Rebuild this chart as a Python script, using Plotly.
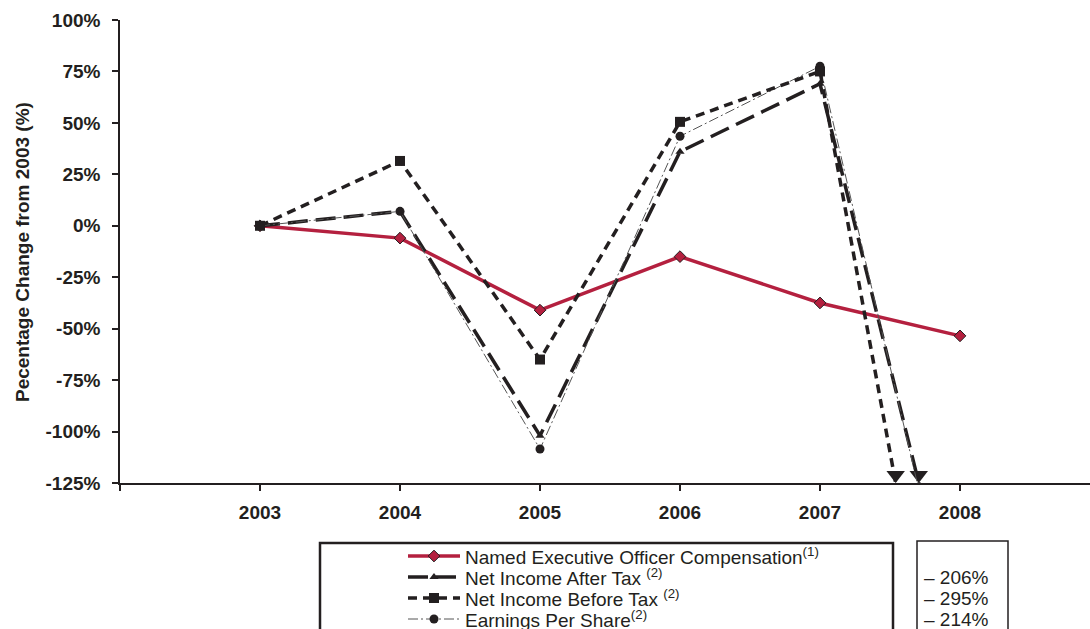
import plotly.graph_objects as go

# ---- data -------------------------------------------------------------
years = [2003, 2004, 2005, 2006, 2007, 2008]
neo_comp = [0, -6, -41, -15, -37.5, -53.5]
ni_after_tax = [0, 7, -102, 36, 69, -206]
ni_before_tax = [0, 31.5, -65, 50.5, 75, -295]
eps = [0, 7, -108.5, 43.5, 77.5, -214]

y_ticks = [100, 75, 50, 25, 0, -25, -50, -75, -100, -125]
x_ticks = [2002, 2003, 2004, 2005, 2006, 2007, 2008]
x_tick_text = ["", "2003", "2004", "2005", "2006", "2007", "2008"]
y_min, y_max = -125, 100

legend_labels = [
    "Named Executive Officer Compensation<sup>(1)</sup>",
    "Net Income After Tax <sup>(2)</sup>",
    "Net Income Before Tax <sup>(2)</sup>",
    "Earnings Per Share<sup>(2)</sup>",
]

# ---- styling ----------------------------------------------------------
W, H = 1090, 629
INK = "#231F20"
RED = "#B4203F"
FONT = "Liberation Sans, Arial, sans-serif"

plot_left, plot_top, plot_bottom = 120, 20, 483
px_per_year = 140
px_per_pct = (plot_bottom - plot_top) / (y_max - y_min)

styles = [
    dict(line=dict(color=RED, width=3.5),
         marker=dict(symbol="diamond", size=9, color=RED, line=dict(color=INK, width=1))),
    dict(line=dict(color=INK, width=3.5, dash="20px,8px"),
         marker=dict(symbol="triangle-up", size=8, color=INK, line=dict(width=0))),
    dict(line=dict(color=INK, width=3.5, dash="9px,6px"),
         marker=dict(symbol="square", size=10, color=INK, line=dict(width=0))),
    dict(line=dict(color="#555555", width=1, dash="10px,3px,2px,3px"),
         marker=dict(symbol="circle", size=9, color=INK, line=dict(width=0))),
]
series = [neo_comp, ni_after_tax, ni_before_tax, eps]
draw_order = [0, 1, 3, 2]
arrow_series = [1, 2]
ARROW_SIZE = 16  # triangle-down marker; its tip sits size/2 px below centre

fig = go.Figure()

for i in draw_order:
    fig.add_trace(go.Scatter(
        x=years, y=series[i], mode="lines+markers",
        line=styles[i]["line"], marker=styles[i]["marker"],
        showlegend=False, hoverinfo="skip",
    ))
    if i in arrow_series and series[i][-1] < y_min:
        # where the segment to the final year leaves the bottom of the axis
        v0, v1 = series[i][-2], series[i][-1]
        frac = (v0 - y_min) / (v0 - v1)
        xc = years[-2] + frac * (years[-1] - years[-2])
        # lift the arrowhead so its point rests on the axis line
        yc = y_min + (ARROW_SIZE / 2) / px_per_pct
        fig.add_trace(go.Scatter(
            x=[xc], y=[yc], mode="markers",
            marker=dict(symbol="triangle-down", size=ARROW_SIZE, color=INK,
                        line=dict(width=0)),
            cliponaxis=False, showlegend=False, hoverinfo="skip",
        ))

# ---- legend block drawn on a pixel-space helper axis -------------------
row_y = [556, 577, 598, 619]
sample_x0, sample_mid, sample_x1 = 408, 434, 460
for k, yy in enumerate(row_y):
    fig.add_trace(go.Scatter(
        x=[sample_x0, sample_x1], y=[yy, yy], mode="lines",
        line=styles[k]["line"], xaxis="x2", yaxis="y2",
        showlegend=False, hoverinfo="skip",
    ))
    fig.add_trace(go.Scatter(
        x=[sample_mid], y=[yy], mode="markers",
        marker=styles[k]["marker"], xaxis="x2", yaxis="y2",
        showlegend=False, hoverinfo="skip",
    ))

annotations = []
for k, yy in enumerate(row_y):
    annotations.append(dict(
        x=463, y=yy, xref="x2", yref="y2", text=legend_labels[k],
        showarrow=False, xanchor="left", yanchor="middle",
        font=dict(family=FONT, size=19, color=INK),
    ))
for k in arrow_series + [3]:
    annotations.append(dict(
        x=922, y=row_y[k], xref="x2", yref="y2",
        text=f"\u2013 {abs(series[k][-1]):g}%",
        showarrow=False, xanchor="left", yanchor="middle",
        font=dict(family=FONT, size=19, color=INK),
    ))
annotations.append(dict(
    x=22, y=252, xref="x2", yref="y2", text="Pecentage Change from 2003 (%)",
    textangle=-90, showarrow=False, xanchor="center", yanchor="middle",
    font=dict(family=FONT, size=19, color=INK, weight="bold"),
))

shapes = [
    dict(type="rect", xref="x2", yref="y2", x0=320, x1=893, y0=543, y1=660,
         line=dict(color=INK, width=2.5)),
    dict(type="rect", xref="x2", yref="y2", x0=917, x1=1008, y0=541, y1=660,
         line=dict(color=INK, width=1.5)),
]

fig.update_layout(
    width=W, height=H,
    margin=dict(l=0, r=0, t=0, b=0, autoexpand=False),
    paper_bgcolor="white", plot_bgcolor="rgba(0,0,0,0)",
    font=dict(family=FONT, color=INK),
    showlegend=False,
    xaxis=dict(
        domain=[plot_left / W, 1], anchor="y",
        range=[x_ticks[0], x_ticks[0] + (W - plot_left) / px_per_year],
        tickvals=x_ticks, ticktext=x_tick_text,
        ticks="outside", ticklen=6, tickwidth=1.5, tickcolor=INK,
        showline=True, linewidth=1.5, linecolor=INK,
        showgrid=False, zeroline=False, automargin=False,
        tickfont=dict(family=FONT, size=19, color=INK, weight="bold"),
        ticklabelstandoff=5,
    ),
    yaxis=dict(
        domain=[(H - plot_bottom) / H, (H - plot_top) / H], anchor="x",
        range=[y_min, y_max],
        tickvals=y_ticks, ticktext=[f"{v}%" for v in y_ticks],
        ticks="outside", ticklen=6, tickwidth=1.5, tickcolor=INK,
        showline=True, linewidth=1.5, linecolor=INK,
        showgrid=False, zeroline=False, automargin=False,
        tickfont=dict(family=FONT, size=19, color=INK, weight="bold"),
        ticklabelstandoff=8,
    ),
    xaxis2=dict(domain=[0, 1], anchor="y2", range=[0, W], visible=False,
                fixedrange=True, automargin=False),
    yaxis2=dict(domain=[0, 1], anchor="x2", range=[H, 0], visible=False,
                fixedrange=True, automargin=False),
    annotations=annotations,
    shapes=shapes,
)

fig.write_html("out.html")
